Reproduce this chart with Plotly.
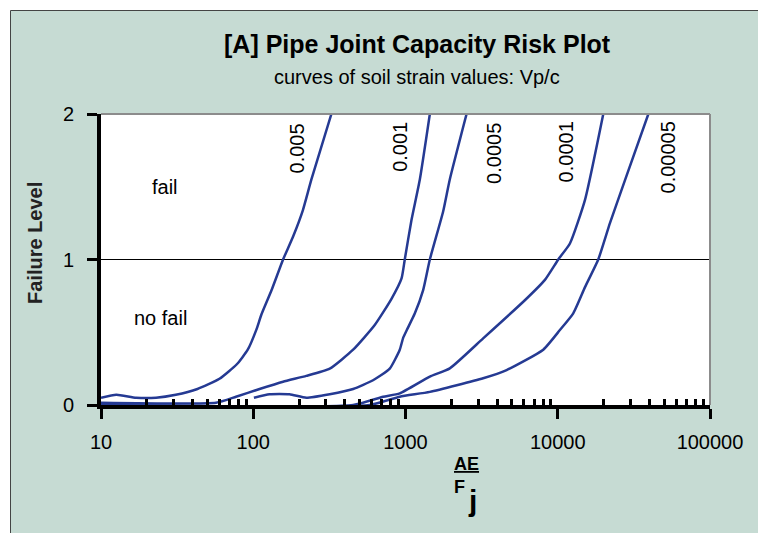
import numpy as np
import plotly.graph_objects as go

# ---- data -------------------------------------------------------------
strain_labels = ["0.005", "0.001", "0.0005", "0.0001", "0.00005"]

x_0005 = [10, 12.6, 17, 23, 31, 43, 60, 78, 92, 105, 113, 132, 157, 183, 212, 241, 326]
y_0005 = [0.05, 0.07, 0.05, 0.05, 0.07, 0.11, 0.18, 0.28, 0.38, 0.52, 0.62, 0.79, 1.0, 1.16, 1.34, 1.55, 2.0]

x_0001 = [10, 57, 77, 110, 157, 223, 318, 453, 628, 809, 942, 989, 1094, 1242, 1445]
y_0001 = [0.016, 0.016, 0.057, 0.11, 0.16, 0.20, 0.25, 0.38, 0.55, 0.73, 0.87, 1.0, 1.27, 1.55, 2.0]

x_00005 = [101, 128, 173, 223, 318, 453, 612, 788, 917, 964, 1020, 1152, 1306, 1445, 1767, 1954, 2518]
y_00005 = [0.05, 0.074, 0.074, 0.05, 0.074, 0.11, 0.17, 0.25, 0.38, 0.46, 0.515, 0.63, 0.79, 1.0, 1.33, 1.55, 2.0]

x_00001 = [10, 453, 713, 917, 1445, 1954, 3236, 6081, 8239, 10080, 12020, 15100, 19910]
y_00001 = [0.0, 0.0, 0.057, 0.08, 0.195, 0.252, 0.458, 0.72, 0.86, 1.0, 1.11, 1.41, 2.0]

x_000005 = [10, 582, 917, 1445, 3236, 4613, 8030, 10330, 12640, 15100, 18450, 22020, 27650, 39370]
y_000005 = [0.0, 0.0, 0.057, 0.09, 0.184, 0.24, 0.38, 0.515, 0.63, 0.81, 1.0, 1.25, 1.546, 2.0]

curves_x = [x_0005, x_0001, x_00005, x_00001, x_000005]
curves_y = [y_0005, y_0001, y_00005, y_00001, y_000005]

# where each strain label sits (x value, failure level)
label_x = [195, 918, 3807, 11400, 52600]
label_y = [1.766, 1.773, 1.732, 1.739, 1.698]

x_ticks = [10, 100, 1000, 10000, 100000]
x_ticktext = ["10", "100", "1000", "10000", "100000"]
y_ticks = [0, 1, 2]
y_ticktext = ["0", "1", "2"]
minor_ticks = [m * 10 ** k for k in range(1, 5) for m in range(2, 10)]

# ---- layout geometry ----------------------------------------------------
W, H = 758, 533
L, R, T, B = 101, 48, 114, 128
PW, PH = W - L - R, H - T - B


def px_x(px):
    return (px - L) / PW


def px_y(py):
    return (H - B - py) / PH


BLUE = "#253A93"
GREEN = "#C6DBD3"
FONT = "Liberation Sans, Arial, sans-serif"

fig = go.Figure()

for xs, ys, name in zip(curves_x, curves_y, strain_labels):
    fig.add_trace(go.Scatter(
        x=xs, y=ys, mode="lines", name=name,
        line=dict(color=BLUE, width=2.5, shape="spline", smoothing=0.5),
        showlegend=False, hoverinfo="skip",
    ))

shapes = [
    # chart area background with its frame
    dict(type="rect", xref="paper", yref="paper", layer="below",
         x0=px_x(10.5), x1=px_x(800), y0=px_y(600), y1=px_y(10.5),
         fillcolor=GREEN, line=dict(color="#444444", width=1)),
    # plot area
    dict(type="rect", xref="paper", yref="paper", layer="below",
         x0=0, x1=1, y0=0, y1=1, fillcolor="white", line=dict(width=0)),
    # grey frame on top and right
    dict(type="line", xref="paper", yref="paper", layer="above",
         x0=0, x1=1, y0=1, y1=1, line=dict(color="#8C8C8C", width=2)),
    dict(type="line", xref="paper", yref="paper", layer="above",
         x0=1, x1=1, y0=0, y1=1, line=dict(color="#8C8C8C", width=2)),
]
# inner stubs of the major x ticks
for v in x_ticks:
    shapes.append(dict(type="line", xref="x", yref="paper", layer="above",
                       x0=np.log10(v), x1=np.log10(v), y0=0, y1=7 / PH,
                       line=dict(color="black", width=3)))

annotations = [
    dict(text="<b>[A] Pipe Joint Capacity Risk Plot</b>", xref="paper", yref="paper",
         x=px_x(417), y=px_y(44), showarrow=False, xanchor="center", yanchor="middle",
         font=dict(size=25, color="black", family=FONT)),
    dict(text="curves of soil strain values: Vp/c", xref="paper", yref="paper",
         x=px_x(417), y=px_y(77), showarrow=False, xanchor="center", yanchor="middle",
         font=dict(size=20, color="black", family=FONT)),
    dict(text="<b>Failure Level</b>", xref="paper", yref="paper", textangle=-90,
         x=px_x(35), y=px_y(243), showarrow=False, xanchor="center", yanchor="middle",
         font=dict(size=20, color="#222222", family=FONT)),
    dict(text="fail", xref="x", yref="y", x=np.log10(26.5), y=1.5, showarrow=False,
         font=dict(size=20, color="black", family=FONT)),
    dict(text="no fail", xref="x", yref="y", x=np.log10(24.6), y=0.6, showarrow=False,
         font=dict(size=20, color="black", family=FONT)),
    dict(text="<b><u>AE</u></b>", xref="paper", yref="paper",
         x=px_x(466), y=px_y(464), showarrow=False, xanchor="center", yanchor="middle",
         font=dict(size=18, color="black", family=FONT)),
    dict(text="<b>F</b>", xref="paper", yref="paper",
         x=px_x(460), y=px_y(487), showarrow=False, xanchor="center", yanchor="middle",
         font=dict(size=18, color="black", family=FONT)),
    dict(text="<b>j</b>", xref="paper", yref="paper",
         x=px_x(472), y=px_y(500), showarrow=False, xanchor="center", yanchor="middle",
         font=dict(size=30, color="black", family=FONT)),
]
# y tick labels, set well away from the axis
for v, txt in zip(y_ticks, y_ticktext):
    annotations.append(dict(text=txt, xref="paper", yref="y", x=px_x(68), y=v,
                            xanchor="center", yanchor="middle", showarrow=False,
                            font=dict(size=20, color="black", family=FONT)))
for lx, ly, txt in zip(label_x, label_y, strain_labels):
    annotations.append(dict(text=txt, xref="x", yref="y", x=np.log10(lx), y=ly,
                            textangle=-90, showarrow=False,
                            font=dict(size=20, color="black", family=FONT)))

fig.update_layout(
    width=W, height=H,
    margin=dict(l=L, r=R, t=T, b=B, pad=0),
    paper_bgcolor="white",
    plot_bgcolor="white",
    font=dict(family=FONT, color="black"),
    shapes=shapes,
    annotations=annotations,
    xaxis=dict(
        type="log", range=[1, 5],
        tickmode="array", tickvals=x_ticks, ticktext=x_ticktext,
        ticks="outside", ticklen=10, tickwidth=3, tickcolor="black",
        ticklabelstandoff=6,
        showline=True, linecolor="black", linewidth=4,
        showgrid=False, zeroline=False,
        tickfont=dict(size=20, color="black", family=FONT),
        minor=dict(tickmode="array", tickvals=minor_ticks, ticks="inside",
                   ticklen=6, tickwidth=3, tickcolor="black", showgrid=False),
    ),
    yaxis=dict(
        range=[0, 2], tickmode="array", tickvals=y_ticks,
        ticks="outside", ticklen=10, tickwidth=3, tickcolor="black",
        showticklabels=False,
        showline=True, linecolor="black", linewidth=4,
        showgrid=True, gridcolor="black", gridwidth=1, zeroline=False,
    ),
)

fig.write_html("out.html")
